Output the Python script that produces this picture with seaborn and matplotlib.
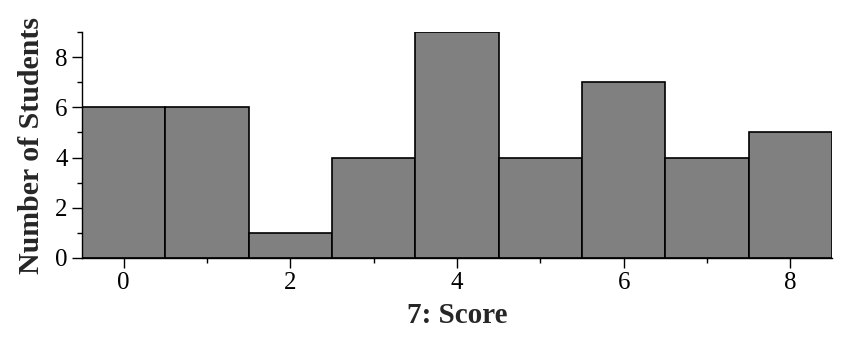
import matplotlib
matplotlib.use("Agg")
import matplotlib.pyplot as plt
import seaborn as sns
import numpy as np
from matplotlib.ticker import MultipleLocator

scores = [0, 1, 2, 3, 4, 5, 6, 7, 8]
counts = [6, 6, 1, 4, 9, 4, 7, 4, 5]
x_label = "7: Score"
y_label = "Number of Students"

sns.set_style("ticks")
plt.rcParams['font.family'] = ['Liberation Serif', 'DejaVu Serif']

fig = plt.figure(figsize=(8.46, 3.42), dpi=100)
ax = fig.add_axes([82/846, 1 - 258/342, 750/846, 226/342])

sns.histplot(x=scores, weights=counts, discrete=True, ax=ax,
             color="#808080", edgecolor="black", linewidth=1.2, alpha=1)

ax.set_xlim(-0.5, 8.5)
ax.set_ylim(0, 9)
ax.xaxis.set_major_locator(MultipleLocator(2))
ax.xaxis.set_minor_locator(MultipleLocator(1))
ax.yaxis.set_major_locator(MultipleLocator(2))
ax.yaxis.set_minor_locator(MultipleLocator(1))
ax.tick_params(which="major", length=7.2, width=1.0, labelsize=18, color="black",
               labelcolor="black", direction="out", pad=3)
ax.tick_params(which="minor", length=3.5, width=1.0, color="black", direction="out")
for s in ["top", "right"]:
    ax.spines[s].set_visible(False)
for s in ["left", "bottom"]:
    ax.spines[s].set_linewidth(1.0)
    ax.spines[s].set_color("black")

ax.set_xlabel(x_label, fontsize=21, fontweight="bold", labelpad=5.5)
ax.set_ylabel(y_label, fontsize=21.5, fontweight="bold", labelpad=7.5)

fig.savefig("out.png", dpi=100)
